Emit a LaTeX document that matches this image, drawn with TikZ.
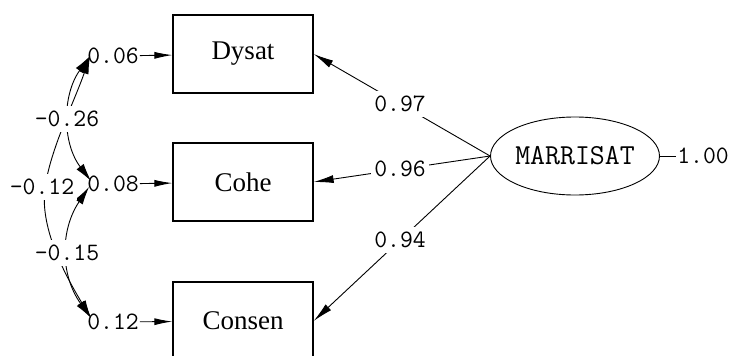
\documentclass[tikz,border=0pt]{standalone}
\usepackage{fontspec}
\setmainfont{Liberation Serif}
\usetikzlibrary{arrows.meta,shapes.geometric}
\begin{document}
\begin{tikzpicture}[x=1pt,y=-1pt,
  obs/.style={draw,line width=1.3pt,minimum width=140pt,minimum height=78pt,inner sep=0pt,font=\fontsize{27}{30}\selectfont},
  lat/.style={draw,ellipse,line width=0.9pt,minimum width=140pt,minimum height=78pt,inner sep=0pt,font=\ttfamily\fontsize{29}{32}\selectfont},
  num/.style={inner sep=1pt,font=\ttfamily\fontsize{25}{28}\selectfont},
  lbl/.style={num,fill=white,inner xsep=3pt,inner ysep=5pt},
  conn/.style={line width=0.9pt},
  arr/.style={conn,-{Latex[length=20pt,width=8pt]}},
  earr/.style={conn,-{Latex[length=18pt,width=7pt]}},
  dbl/.style={conn,{Latex[length=18pt,width=9pt]}-{Latex[length=18pt,width=9pt]}}]
\useasboundingbox (0,0) rectangle (732,356);
% observed variables
\node[obs] (D) at (243,54) {Dysat};
\node[obs] (C) at (243,182) {Cohe};
\node[obs] (S) at (243,321) {Consen};
% latent
\node[lat] (M) at (575,156) {MARRISAT};
\node[num] (v) at (703,156) {1.00};
\draw[conn] (M) -- (v);
% error variances
\node[num] (e1) at (113,56) {0.06};
\node[num] (e2) at (113,184) {0.08};
\node[num] (e3) at (113,322) {0.12};
\draw[earr] (e1) -- (D);
\draw[earr] (e2) -- (C);
\draw[earr] (e3) -- (S);
% loadings
\draw[arr] (M.west) -- node[lbl,pos=0.51] {0.97} (D.east);
\draw[arr] (M.west) -- node[lbl,pos=0.51] {0.96} (C.east);
\draw[arr] (M.west) -- node[lbl,pos=0.51] {0.94} (S.east);
% covariances
\draw[dbl] ([xshift=4pt]e1.west) .. controls (62,95) and (62,143) .. ([xshift=5pt,yshift=3pt]e2.west);
\draw[dbl] ([xshift=4pt]e1.west) .. controls (75,100) and (50,150) .. (45,188) .. controls (40,226) and (62,270) .. ([xshift=5pt,yshift=4pt]e3.west);
\draw[dbl] ([xshift=3pt,yshift=-3pt]e2.west) .. controls (60,230) and (60,275) .. ([xshift=5pt,yshift=4pt]e3.west);
\node[lbl] (c1) at (67,119) {-0.26};
\node[lbl] (c2) at (42,187) {-0.12};
\node[lbl] (c3) at (67,253) {-0.15};
\end{tikzpicture}
\end{document}
